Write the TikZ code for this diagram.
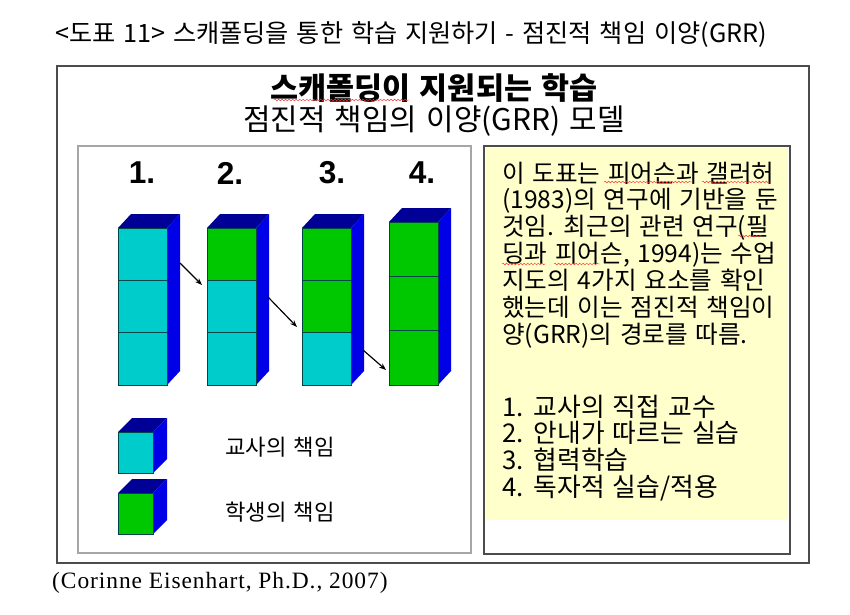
\documentclass[tikz,border=0pt]{standalone}
\usepackage{fontspec}
\setmainfont{Liberation Serif}
\newfontfamily\krfont{Noto Sans CJK KR}
\newfontfamily\krwide[WordSpace=1.4]{Noto Sans CJK KR}
\newfontfamily\numfont{Liberation Sans}
\usetikzlibrary{arrows.meta,decorations.pathmorphing}

\definecolor{tcyan}{RGB}{0,204,204}
\definecolor{sgreen}{RGB}{0,200,0}
\definecolor{sideblue}{RGB}{0,0,230}
\definecolor{topblue}{RGB}{0,0,150}
\definecolor{noteyellow}{RGB}{255,255,204}

\begin{document}
\begin{tikzpicture}[
    x=0.03cm, y=-0.03cm,
    frame/.style={draw=black!70, line width=1.2pt},
    panel/.style={draw=black!35, line width=1pt},
    notebox/.style={draw=black!70, line width=1.5pt},
    cell/.style={draw=black!45!teal, line width=0.5pt},
    num/.style={font=\numfont\bfseries\fontsize{27}{27}\selectfont, inner sep=0pt},
    legend/.style={font=\krfont\fontsize{19}{19}\selectfont, anchor=west, inner sep=0pt},
    line/.style={-{Stealth[length=6pt,width=4.5pt]}, line width=1pt},
    squiggle/.style={draw=red!80, line width=0.4pt, decorate,
      decoration={snake, amplitude=0.7pt, segment length=3pt}}
]
\useasboundingbox (0,0) rectangle (850,614);
\fill[white] (0,0) rectangle (850,614);

% captions and headings
\node[font=\krfont\fontsize{21.5}{21.5}\selectfont] (caption) at (411,35) {<도표 11> 스캐폴딩을 통한 학습 지원하기 - 점진적 책임 이양(GRR)};
\draw[frame] (57,66) rectangle (809,563);
\node[font=\krfont\bfseries\fontsize{26}{26}\selectfont] (head) at (434,88) {스캐폴딩이 지원되는 학습};
\node[font=\krfont\fontsize{25.5}{25.5}\selectfont] (subhead) at (434,121) {점진적 책임의 이양(GRR) 모델};
\node[font=\addfontfeature{LetterSpace=4}\fontsize{20}{20}\selectfont, anchor=west, inner sep=0pt] (source) at (52,583) {(Corinne Eisenhart, Ph.D., 2007)};
\draw[squiggle] (274,100) -- (409,100);

% left panel: columns
\draw[panel] (78,146) rectangle (471,553);
\foreach \i/\x in {1/142, 2/230, 3/332, 4/422}
  \node[num] (n\i) at (\x,173) {\i.};
\foreach \i/\x/\t in {1/118/228, 2/207/228, 3/302/228, 4/389/222}{
  \pgfmathsetmacro\h{(385-\t)/3}
  \fill[topblue] (\x,\t) -- ++(13,-14) -- ++(49,0) -- ++(-13,14) -- cycle;
  \fill[sideblue] (\x+49,\t) -- ++(13,-14) -- (\x+62,371) -- (\x+49,385) -- cycle;
  \foreach \k in {1,2,3}{
    \ifnum\k<\i \def\cellcol{sgreen}\else\def\cellcol{tcyan}\fi
    \filldraw[cell, fill=\cellcol] (\x,{\t+(\k-1)*\h}) rectangle ++(49,\h);
  }
}
\coordinate (a1s) at (180,263);
\coordinate (a1e) at (202,285);
\coordinate (a2s) at (268,297);
\coordinate (a2e) at (297,327);
\coordinate (a3s) at (363,350);
\coordinate (a3e) at (386,370);
\draw[line] (a1s) -- (a1e);
\draw[line] (a2s) -- (a2e);
\draw[line] (a3s) -- (a3e);

% legend
\foreach \t/\c in {432/tcyan, 493/sgreen}{
  \fill[topblue] (118,\t) -- ++(14,-14) -- ++(35,0) -- ++(-14,14) -- cycle;
  \fill[sideblue] (153,\t) -- ++(14,-14) -- ++(0,41) -- ++(-14,14) -- cycle;
  \filldraw[cell, fill=\c] (118,\t) rectangle ++(35,41);
}
\node[legend] (teacher) at (225,447) {교사의 책임};
\node[legend] (student) at (225,512) {학생의 책임};

% right panel: note
\fill[noteyellow] (486,148) rectangle (788,520);
\draw[notebox] (484,146) rectangle (790,554);
\node[anchor=base west, align=left, inner sep=0pt, font=\krfont\fontsize{21}{22.9}\selectfont] (para) at (502,343)
  {이 도표는 피어슨과 갤러허\\(1983)의 연구에 기반을 둔\\것임. 최근의 관련 연구(필\\딩과 피어슨, 1994)는 수업\\지도의 4가지 요소를 확인\\했는데 이는 점진적 책임이\\양(GRR)의 경로를 따름.};
\node[anchor=base west, align=left, inner sep=0pt, font=\krwide\fontsize{22}{22.7}\selectfont] (steps) at (502,496)
  {1. 교사의 직접 교수\\2. 안내가 따르는 실습\\3. 협력학습\\4. 독자적 실습/적용};
\draw[squiggle] (604,182) -- (692,182);
\draw[squiggle] (702,182) -- (770,182);
\draw[squiggle] (738,236) -- (762,236);
\draw[squiggle] (502,264) -- (546,264);
\draw[squiggle] (554,264) -- (600,264);
\end{tikzpicture}
\end{document}
